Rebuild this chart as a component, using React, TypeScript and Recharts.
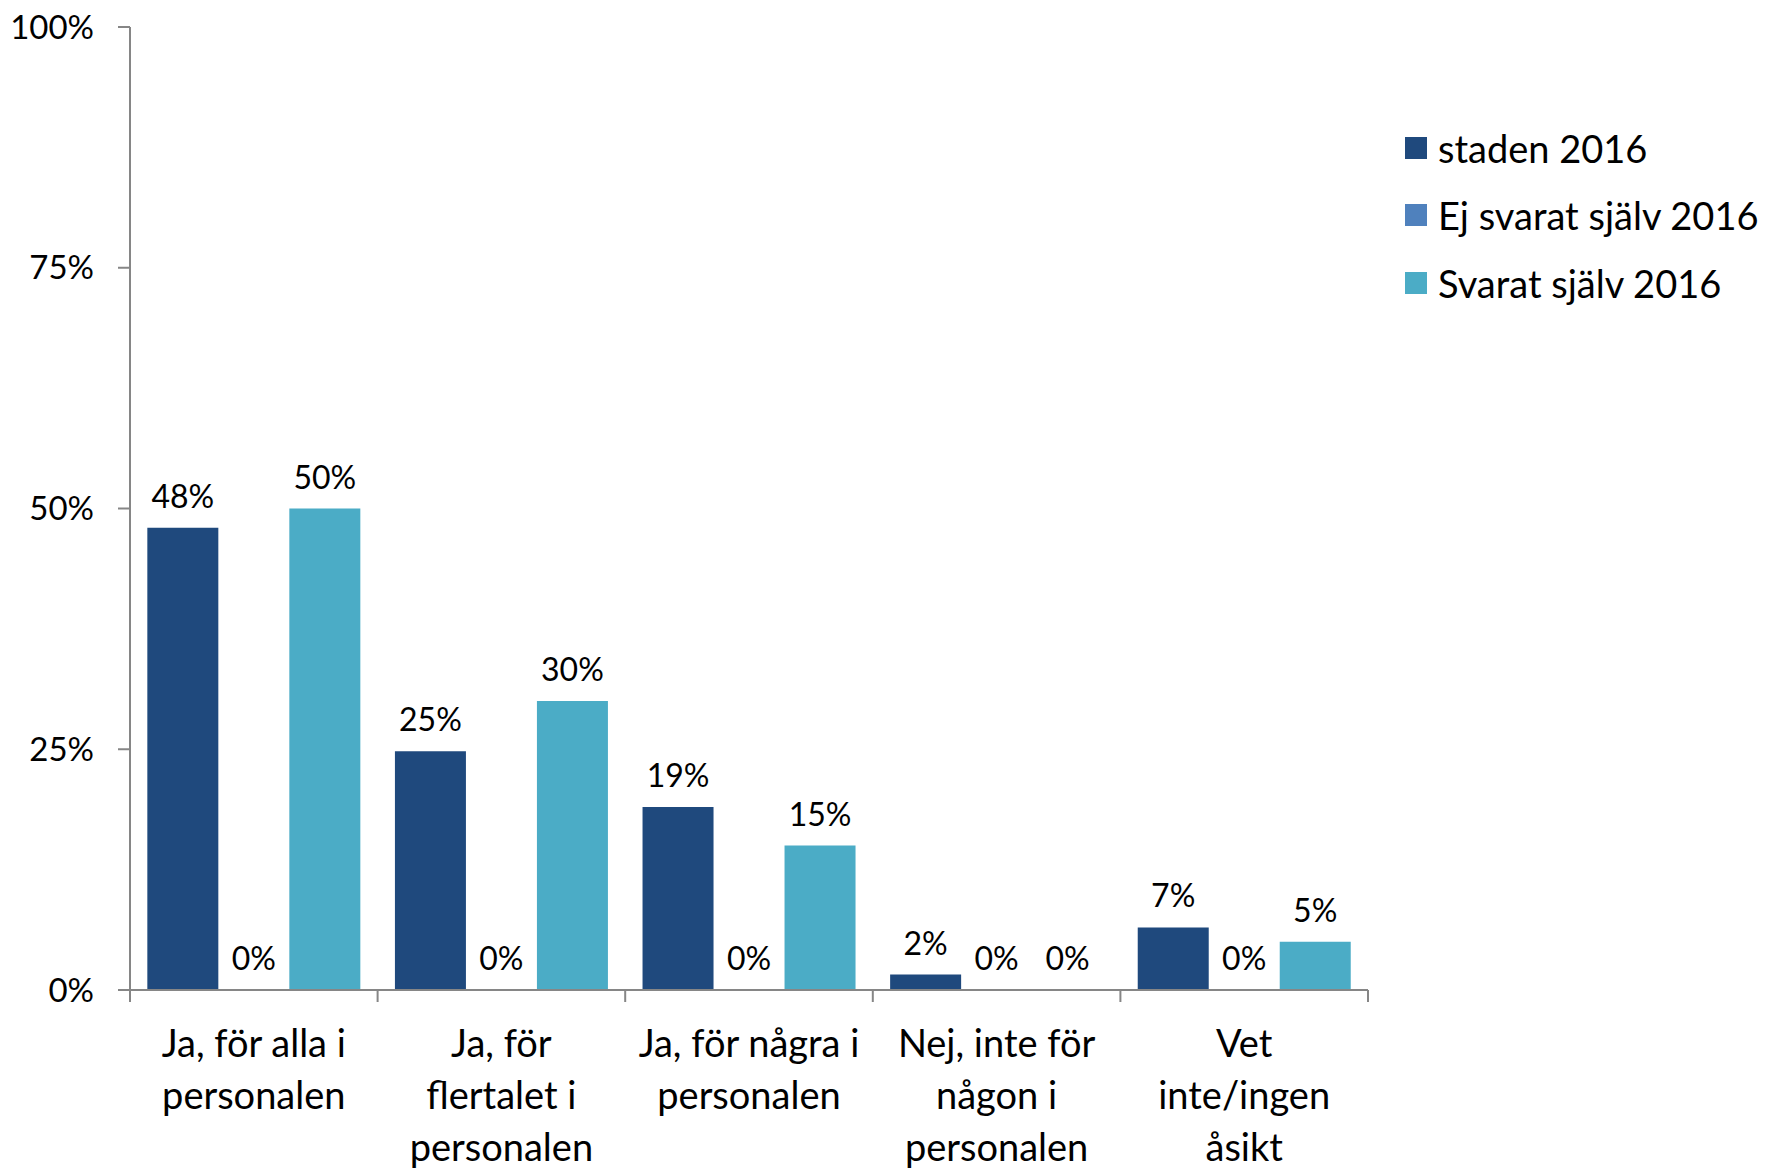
import { Bar, BarChart, LabelList, XAxis, YAxis } from "recharts";

const categories = [
  "Ja, för alla i\npersonalen",
  "Ja, för\nflertalet i\npersonalen",
  "Ja, för några i\npersonalen",
  "Nej, inte för\nnågon i\npersonalen",
  "Vet\ninte/ingen\nåsikt",
];
const seriesNames = ["staden 2016", "Ej svarat själv 2016", "Svarat själv 2016"];
const staden = [48, 24.8, 19, 1.6, 6.5];
const ejSvarat = [0, 0, 0, 0, 0];
const svarat = [50, 30, 15, 0, 5];
const yTicks = [0, 25, 50, 75, 100];

const COLORS = ["#1f497d", "#4f81bd", "#4bacc6"];
const AXIS = "#868686";
const FONT = "Lato, 'Open Sans', sans-serif";

const W = 1772;
const H = 1171;
const M = { top: 27, right: 404, bottom: 0, left: 0 };
const Y_W = 130;
const X_H = 181;
const PLOT_W = W - M.left - M.right - Y_W;
const BAND = PLOT_W / categories.length;

const data = categories.map((c, i) => ({
  cat: c,
  s0: staden[i],
  s1: ejSvarat[i],
  s2: svarat[i],
}));

function CatTick(props: any) {
  const { x, y, payload, index } = props;
  const lines = String(payload.value).split("\n");
  const last = index === categories.length - 1;
  return (
    <g>
      <line x1={x - BAND / 2} x2={x - BAND / 2} y1={y} y2={y + 12} stroke={AXIS} strokeWidth={2} />
      {last && (
        <line x1={x + BAND / 2} x2={x + BAND / 2} y1={y} y2={y + 12} stroke={AXIS} strokeWidth={2} />
      )}
      {lines.map((l, i) => (
        <text
          key={i}
          x={x}
          y={y + 67 + i * 52}
          textAnchor="middle"
          fontFamily={FONT}
          fontSize={38}
          fill="#000"
        >
          {l}
        </text>
      ))}
    </g>
  );
}

const pct = (v: any) => `${Math.round(Number(v))}%`;

export default function App() {
  const keys = ["s0", "s1", "s2"];
  return (
    <div style={{ position: "absolute", left: 0, top: 0, width: W, height: H, background: "#fff" }}>
      <BarChart width={W} height={H} data={data} margin={M} barCategoryGap="7%" barGap={0}>
        <YAxis
          width={Y_W}
          domain={[0, 100]}
          ticks={yTicks}
          tickFormatter={pct}
          axisLine={{ stroke: AXIS, strokeWidth: 2 }}
          tickLine={{ stroke: AXIS, strokeWidth: 2 }}
          tickSize={12}
          tickMargin={24}
          tick={{ fill: "#000", fontSize: 33, fontFamily: FONT }}
        />
        <XAxis
          dataKey="cat"
          height={X_H}
          axisLine={{ stroke: AXIS, strokeWidth: 2 }}
          tickLine={false}
          tickSize={0}
          tickMargin={0}
          interval={0}
          tick={<CatTick />}
        />
        {keys.map((k, i) => (
          <Bar
            key={k}
            dataKey={k}
            name={seriesNames[i]}
            fill={COLORS[i]}
            minPointSize={0.01}
            isAnimationActive={false}
          >
            <LabelList
              dataKey={k}
              position="top"
              offset={20}
              formatter={pct}
              style={{ fill: "#000", fontSize: 32, fontFamily: FONT }}
            />
          </Bar>
        ))}
      </BarChart>
      <div style={{ position: "absolute", left: 1405, top: 114, fontFamily: FONT, fontSize: 38 }}>
        {seriesNames.map((n, i) => (
          <div key={n} style={{ display: "flex", alignItems: "center", height: 67.5 }}>
            <span style={{ width: 22, height: 22, background: COLORS[i], marginRight: 11 }} />
            <span>{n}</span>
          </div>
        ))}
      </div>
    </div>
  );
}
